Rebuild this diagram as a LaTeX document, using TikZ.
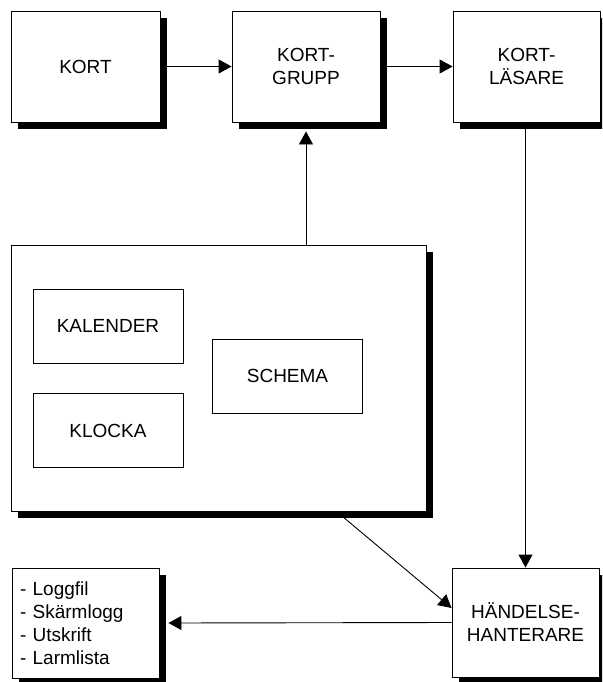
\documentclass[tikz,border=0pt]{standalone}
\usepackage{fontspec}
\setmainfont{Liberation Sans}
\usetikzlibrary{arrows.meta}

\begin{document}
\begin{tikzpicture}[x=1pt, y=-1pt,
    box/.style={draw, fill=white, line width=0.9pt, align=center, inner sep=0pt,
                font=\fontsize{19}{23}\selectfont},
    skugga/.style={preaction={draw=none, fill=black, transform canvas={shift={(7pt,-7pt)}}}},
    pil/.style={line width=0.9pt, -{Triangle[length=13pt, width=14pt]}}]
    \useasboundingbox (0,0) rectangle (602,682);
    \clip (0,0) rectangle (602,682);

    % top row
    \node[box, skugga, minimum width=149pt, minimum height=111pt] (kort) at (85.5, 66.5) {KORT};
    \node[box, skugga, minimum width=148pt, minimum height=111pt] (grupp) at (306, 66.5) {KORT-\\GRUPP};
    \node[box, skugga, minimum width=147pt, minimum height=111pt] (lasare) at (526.5, 66.5) {KORT-\\LÄSARE};

    % big box with inner parts
    \node[box, skugga, minimum width=415pt, minimum height=266pt] (tid) at (218.5, 378) {};
    \foreach \namn/\x/\y in {KALENDER/108/326, KLOCKA/108/430.5, SCHEMA/287.5/376}
      {
        \node[box, minimum width=150pt, minimum height=74pt] (\namn) at (\x, \y) {\namn};
      }

    % bottom row
    \node[box, skugga, minimum width=147pt, minimum height=110pt, text width=131pt,
          inner xsep=8pt, align=left] (logg) at (85.5, 623)
          {- Loggfil\\- Skärmlogg\\- Utskrift\\- Larmlista};
    \node[box, skugga, minimum width=147pt, minimum height=109pt] (handelse) at (525.5, 622.5)
          {HÄNDELSE-\\HANTERARE};

    % connectors
    \draw[pil] ([xshift=7pt]kort.east) -- (grupp.west);
    \draw[pil] ([xshift=7pt]grupp.east) -- (lasare.west);
    \draw[pil] (grupp.south |- tid.north) -- ([yshift=-9pt]grupp.south);
    \draw[pil] (handelse.north |- lasare.south) -- (handelse.north);
    \draw[pil] ([xshift=118pt]tid.south) -- ([yshift=14.5pt]handelse.west);
    \draw[pil] (handelse.west) -- ([xshift=9pt]logg.east);
  \end{tikzpicture}
\end{document}
